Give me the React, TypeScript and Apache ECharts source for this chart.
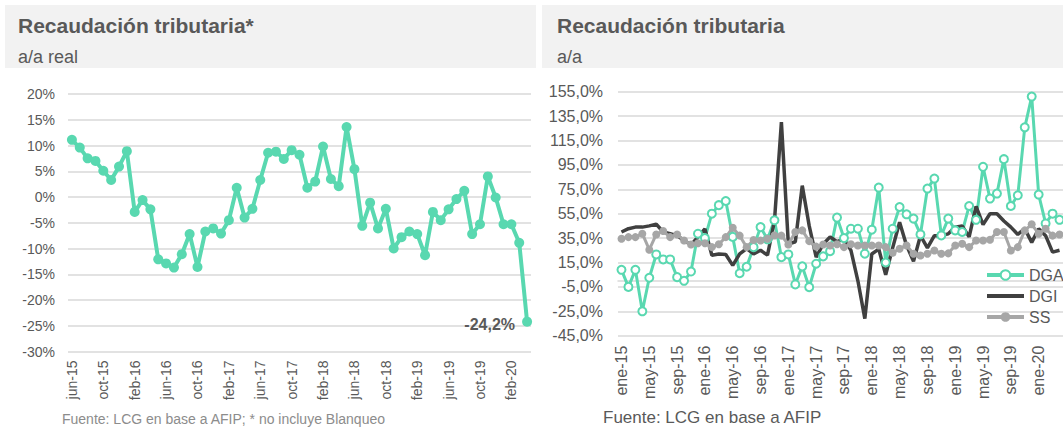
import { useEffect, useRef } from "react";
import * as echarts from "echarts";

const FONT = "'Liberation Sans', Arial, Helvetica, sans-serif";
const TEAL = "#59d8b0";
const DARK = "#404040";
const GRAY = "#a6a6a6";
const TEXT = "#595959";
const GRID = "#d9d9d9";

const MONTHS = ["ene", "feb", "mar", "abr", "may", "jun", "jul", "ago", "sep", "oct", "nov", "dic"];
function monthLabels(startYear: number, startMonth: number, count: number): string[] {
  const out: string[] = [];
  for (let i = 0; i < count; i++) {
    const m = startMonth + i;
    const y = startYear + Math.floor(m / 12);
    out.push(`${MONTHS[m % 12]}-${String(y % 100).padStart(2, "0")}`);
  }
  return out;
}

// Left chart: jun-15 .. abr-20
const leftCategories = monthLabels(2015, 5, 59);
const leftValues = [
  11.1, 9.6, 7.5, 7.0, 5.1, 3.3, 5.9, 8.9, -2.9, -0.6,
  -2.4, -12.1, -12.9, -13.7, -11.1, -7.2, -13.6, -6.7, -6.1, -7.1,
  -4.5, 1.8, -4.0, -2.3, 3.3, 8.6, 8.8, 7.4, 9.1, 8.2,
  1.8, 3.0, 9.8, 3.5, 2.1, 13.6, 5.4, -5.6, -1.1, -6.1,
  -2.3, -10.0, -7.8, -6.7, -7.2, -11.3, -2.9, -4.5, -2.4, -0.4,
  1.2, -7.2, -5.3, 4.0, -0.1, -5.3, -5.3, -8.9, -24.2,
];

// Right chart: ene-15 .. abr-20
const rightCategories = monthLabels(2015, 0, 64);
const dgaValues = [
  9, -5, 9, -25, 2.5, 21.6, 17.5, 17.5, 3, 0,
  7.6, 38.6, 35, 55, 62, 65.4, 36, 6.2, 11.5, 27.6,
  44, 34, 49.6, 19.4, 21.6, -3, 11.8, -5.2, 14, 20,
  24.3, 51.8, 35, 42.7, 42.7, 22.2, 41.9, 76.4, 15, 42.7,
  60.5, 54.5, 51, 38, 75.6, 83.8, 37.2, 51, 41.3, 40,
  61.3, 50, 93.4, 67.4, 71.5, 99.7, 61.3, 70.1, 125.8, 151,
  70.7, 47, 55, 50,
];
const dgiValues = [
  40, 42.7, 44, 44, 45, 46.5, 40, 38.6, 37, 33,
  29.5, 36, 42.5, 21, 22, 21.6, 12.6, 22, 26.3, 22,
  25, 21, 49, 130, 30, 32, 78, 45, 19.4, 30,
  36, 32, 34.5, 25, 0, -31, 22, 26, 5, 27,
  48, 29, 16, 37, 27, 37, 37, 38.5, 44, 45,
  36, 61, 46, 55, 55, 49, 44, 38, 42.7, 31.5,
  42.7, 37, 23.5, 25,
];
const ssValues = [
  34.5, 35.8, 35.8, 38.6, 25.5, 38, 40.8, 35.8, 38, 33.1,
  29.8, 30.8, 30.8, 27.6, 30, 35.8, 43.5, 37, 27.6, 33.5,
  33, 34.5, 37.2, 37, 29.8, 40, 41.3, 32.5, 28, 29.8,
  29, 30, 27.6, 30, 29, 29, 29, 29, 27.6, 23,
  26.3, 29, 22.2, 20.8, 22.2, 24.9, 22.2, 22.5, 29, 30.4,
  27.6, 33, 33, 33.7, 40, 40, 24.9, 27.6, 41.3, 46.3,
  38.6, 42.7, 37, 38,
];

const fmtComma = (v: number, d: number) => v.toFixed(d).replace(".", ",") + "%";

export default function App() {
  const ref = useRef<HTMLDivElement>(null);
  useEffect(() => {
    if (!ref.current) return;
    const chart = echarts.init(ref.current, null, { renderer: "svg" });
    const lastIdx = leftValues.length - 1;
    const option: any = {
      animation: false,
      backgroundColor: "#ffffff",
      textStyle: { fontFamily: FONT },
      grid: [
        { left: 68, top: 94, width: 463, height: 257.5 },
        { left: 618, top: 91.7, width: 457, height: 244 },
      ],
      xAxis: [
        {
          gridIndex: 0,
          type: "category",
          data: leftCategories,
          boundaryGap: true,
          axisLine: { show: false, onZero: false },
          axisTick: { show: false },
          splitLine: { show: false },
          axisLabel: { interval: 3, rotate: 90, fontSize: 14, color: TEXT, margin: 9, fontFamily: FONT },
        },
        {
          gridIndex: 1,
          type: "category",
          data: rightCategories,
          boundaryGap: true,
          axisLine: { show: false, onZero: false },
          axisTick: { show: false },
          splitLine: { show: false },
          axisLabel: { interval: 3, rotate: 90, fontSize: 16, color: TEXT, margin: 10, fontFamily: FONT },
        },
        {
          gridIndex: 1,
          type: "category",
          position: "top",
          data: rightCategories,
          boundaryGap: true,
          axisLine: { show: true, onZero: true, lineStyle: { color: GRID, width: 1.5 } },
          axisTick: { show: false },
          axisLabel: { show: false },
          splitLine: { show: false },
        },
      ],
      yAxis: [
        {
          gridIndex: 0,
          type: "value",
          min: -30,
          max: 20,
          interval: 5,
          axisLine: { show: false },
          axisTick: { show: false },
          splitLine: { lineStyle: { color: GRID, width: 1.5 } },
          axisLabel: { formatter: (v: number) => `${v}%`, fontSize: 14, color: TEXT, margin: 13, fontFamily: FONT },
        },
        {
          gridIndex: 1,
          type: "value",
          min: -45,
          max: 155,
          interval: 20,
          axisLine: { show: false },
          axisTick: { show: false },
          splitLine: { lineStyle: { color: GRID, width: 1.5 } },
          axisLabel: { formatter: (v: number) => fmtComma(v, 1), fontSize: 16, color: TEXT, margin: 15, fontFamily: FONT },
        },
      ],
      legend: {
        data: [
          { name: "DGA", lineStyle: { width: 4 }, itemStyle: { borderWidth: 2 } },
          { name: "DGI", lineStyle: { width: 4 }, itemStyle: { opacity: 0 } },
          { name: "SS", lineStyle: { width: 4 } },
        ],
        orient: "vertical",
        left: 985,
        top: 267,
        padding: 0,
        itemWidth: 37,
        itemHeight: 12,
        itemGap: 5,
        textStyle: { fontSize: 16, color: TEXT, fontFamily: FONT, lineHeight: 16 },
      },
      series: [
        {
          type: "line",
          name: "left",
          xAxisIndex: 0,
          yAxisIndex: 0,
          data: leftValues.map((v, i) =>
            i === lastIdx
              ? {
                  value: v,
                  label: {
                    show: true,
                    position: "left",
                    distance: 7,
                    offset: [0, 3],
                    formatter: (p: any) => fmtComma(p.value, 1),
                    fontSize: 16,
                    fontWeight: "bold",
                    color: TEXT,
                    fontFamily: FONT,
                  },
                }
              : v
          ),
          symbol: "circle",
          symbolSize: 10,
          showAllSymbol: true,
          lineStyle: { width: 4, color: TEAL },
          itemStyle: { color: TEAL },
        },
        {
          type: "line",
          name: "DGA",
          xAxisIndex: 1,
          yAxisIndex: 1,
          data: dgaValues,
          symbol: "emptyCircle",
          symbolSize: 8,
          showAllSymbol: true,
          lineStyle: { width: 3, color: TEAL },
          itemStyle: { color: TEAL, borderWidth: 2 },
        },
        {
          type: "line",
          name: "DGI",
          xAxisIndex: 1,
          yAxisIndex: 1,
          data: dgiValues,
          symbol: "none",
          lineStyle: { width: 3.5, color: DARK },
          itemStyle: { color: DARK },
        },
        {
          type: "line",
          name: "SS",
          xAxisIndex: 1,
          yAxisIndex: 1,
          data: ssValues,
          symbol: "circle",
          symbolSize: 8,
          showAllSymbol: true,
          lineStyle: { width: 3, color: GRAY },
          itemStyle: { color: GRAY },
        },
      ],
      graphic: [
        { type: "rect", z: -10, shape: { x: 5, y: 5, width: 531, height: 63 }, style: { fill: "#f2f2f2" } },
        { type: "rect", z: -10, shape: { x: 542, y: 5, width: 530, height: 63 }, style: { fill: "#f2f2f2" } },
        {
          type: "text", x: 18, y: 25.5,
          style: { text: "Recaudación tributaria*", fontSize: 21, fontWeight: "bold", fill: TEXT, fontFamily: FONT, align: "left", verticalAlign: "middle" },
        },
        {
          type: "text", x: 18, y: 57,
          style: { text: "a/a real", fontSize: 18, fill: TEXT, fontFamily: FONT, align: "left", verticalAlign: "middle" },
        },
        {
          type: "text", x: 557, y: 25.5,
          style: { text: "Recaudación tributaria", fontSize: 21, fontWeight: "bold", fill: TEXT, fontFamily: FONT, align: "left", verticalAlign: "middle" },
        },
        {
          type: "text", x: 557, y: 57,
          style: { text: "a/a", fontSize: 18, fill: TEXT, fontFamily: FONT, align: "left", verticalAlign: "middle" },
        },
        {
          type: "text", x: 62, y: 419,
          style: { text: "Fuente: LCG en base a AFIP; * no incluye Blanqueo", fontSize: 14, fill: "#8c8c8c", fontFamily: FONT, align: "left", verticalAlign: "middle" },
        },
        {
          type: "text", x: 603, y: 417,
          style: { text: "Fuente: LCG en base a AFIP", fontSize: 17, fill: TEXT, fontFamily: FONT, align: "left", verticalAlign: "middle" },
        },
      ],
    };
    chart.setOption(option);
    return () => chart.dispose();
  }, []);
  return (
    <div
      ref={ref}
      style={{ position: "fixed", left: 0, top: 0, width: 1063, height: 429, background: "#fff" }}
    />
  );
}
